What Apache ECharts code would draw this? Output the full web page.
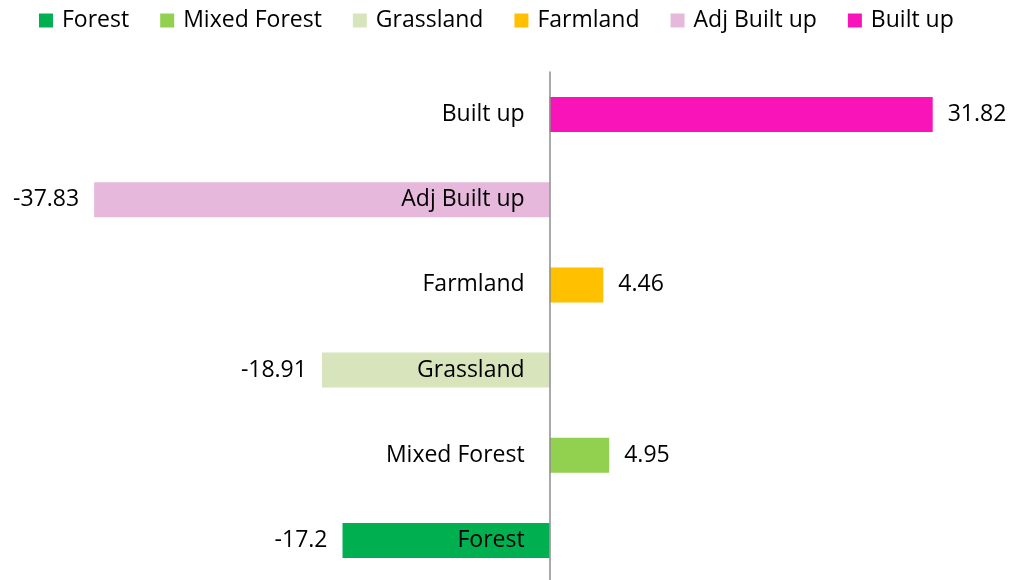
<!DOCTYPE html>
<html>
<head>
<meta charset="utf-8">
<script src="https://cdn.jsdelivr.net/npm/echarts@6/dist/echarts.min.js"></script>
<style>
  html, body { margin: 0; padding: 0; background: #fff; }
  #main { width: 1013px; height: 580px; }
</style>
</head>
<body>
<div id="main"></div>
<script>
// categories from bottom to top (like excel bar chart)
var categories = ['Forest', 'Mixed Forest', 'Grassland', 'Farmland', 'Adj Built up', 'Built up'];
var values = [-17.2, 4.95, -18.91, 4.46, -37.83, 31.82];
var colors = ['#00B050', '#92D050', '#D8E4BC', '#FFC000', '#E6B8DC', '#F814B8'];

var FONT = 'Open Sans';
var FS = 23;
var xMin = -40, xMax = 35;
var gridLeft = 68, gridWidth = 903;
var zeroX = gridWidth * (0 - xMin) / (xMax - xMin);

var chart = echarts.init(document.getElementById('main'));

var series = [];
for (var i = 0; i < categories.length; i++) {
  var d = [];
  for (var j = 0; j < categories.length; j++) {
    d.push(j === i ? values[i] : '-');
  }
  series.push({
    name: categories[i],
    type: 'bar',
    stack: 'one',
    barWidth: 35,
    data: d,
    itemStyle: { color: colors[i] },
    label: {
      show: true,
      position: values[i] < 0 ? 'left' : 'right',
      distance: 15,
      fontFamily: FONT,
      fontSize: FS,
      color: '#000'
    }
  });
}

var option = {
  backgroundColor: '#ffffff',
  animation: false,
  textStyle: { fontFamily: FONT },
  legend: {
    top: 4,
    left: 34,
    itemWidth: 14,
    itemHeight: 14,
    itemGap: 31,
    icon: 'rect',
    data: categories,
    textStyle: { fontSize: FS, color: '#000', fontFamily: FONT, padding: [0, 0, 0, 4] }
  },
  grid: { left: gridLeft, top: 72, width: gridWidth, height: 511, outerBoundsMode: 'none', containLabel: false },
  xAxis: {
    type: 'value',
    min: xMin,
    max: xMax,
    show: false,
    splitLine: { show: false }
  },
  yAxis: {
    type: 'category',
    data: categories,
    z: 10,
    offset: -zeroX,
    axisTick: { show: false },
    axisLine: { onZero: false, lineStyle: { color: '#8c8c8c', width: 1.5 } },
    axisLabel: { margin: 25, fontSize: FS, color: '#000', fontFamily: FONT }
  },
  series: series
};

chart.setOption(option);
</script>
</body>
</html>
